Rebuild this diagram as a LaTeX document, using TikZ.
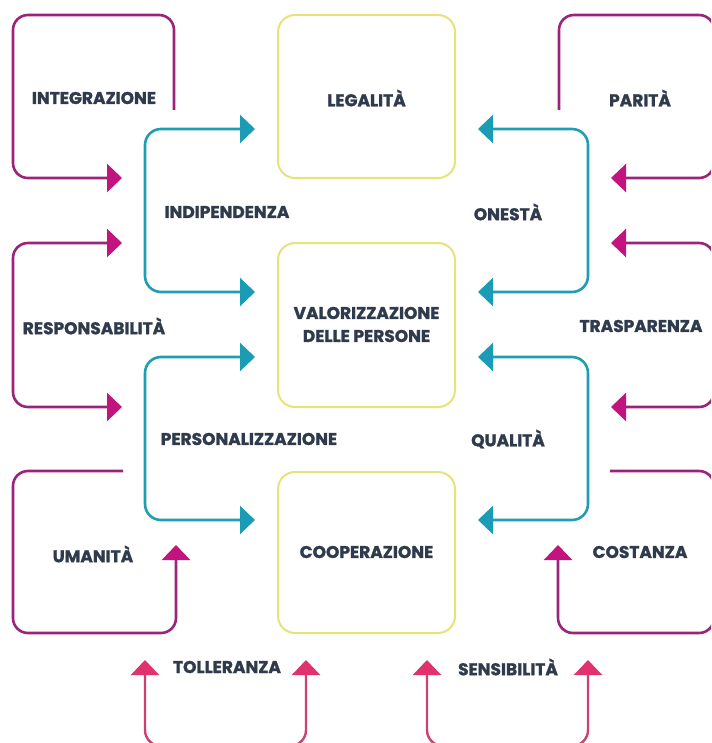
\documentclass[tikz,border=0pt]{standalone}
\usepackage{fontspec}
\setmainfont{Poppins}[BoldFeatures={FakeBold=1.4}]
\usetikzlibrary{arrows.meta}
\definecolor{boxyel}{HTML}{E8E27A}
\definecolor{tealline}{HTML}{1E9EB0}
\definecolor{tealhead}{HTML}{1A9CB6}
\definecolor{magline}{HTML}{9A2479}
\definecolor{maghead}{HTML}{C2137F}
\definecolor{pinkline}{HTML}{D0406E}
\definecolor{pinkhead}{HTML}{E0336D}
\definecolor{txt}{HTML}{2F3B4C}
\begin{document}
\begin{tikzpicture}[x=1pt,y=-1pt,
  lbl/.style={inner sep=0pt, text=txt, font=\fontsize{17}{23}\selectfont\bfseries, align=center},
  valbox/.style={draw=boxyel, line width=2pt, rounded corners=17pt},
  tealarr/.style={draw=tealline, line width=2.6pt, rounded corners=16pt},
  magarr/.style={draw=magline, line width=2.6pt, rounded corners=15pt},
  pinkarr/.style={draw=pinkline, line width=2.4pt, rounded corners=16pt},
  thh/.style={{Triangle[length=15pt,width=28pt,fill=tealhead,color=tealhead]}-{Triangle[length=15pt,width=28pt,fill=tealhead,color=tealhead]}},
  mh/.style={-{Triangle[length=15pt,width=28pt,fill=maghead,color=maghead]}},
  mhh/.style={{Triangle[length=15pt,width=28pt,fill=maghead,color=maghead]}-{Triangle[length=15pt,width=28pt,fill=maghead,color=maghead]}},
  phh/.style={{Triangle[length=15pt,width=28pt,fill=pinkhead,color=pinkhead]}-{Triangle[length=15pt,width=28pt,fill=pinkhead,color=pinkhead]}}
]
\useasboundingbox (0,0) rectangle (711,743);
\clip (0,0) rectangle (711,743);
\fill[white] (0,0) rectangle (711,743);

% central boxes
\draw[valbox] (278,15) rectangle (455,178);
\draw[valbox] (278,243) rectangle (455,407);
\draw[valbox] (278,472) rectangle (455,633);
\node[lbl] (legalita) at (366.5,98) {LEGALITÀ};
\node[lbl] (valorizz) at (366.5,324.5) {VALORIZZAZIONE\\DELLE PERSONE};
\node[lbl] (cooper) at (366.5,552) {COOPERAZIONE};

% coordinates
\coordinate (t1a) at (255,129); \coordinate (t1b) at (255,292);
\coordinate (t2a) at (255,357); \coordinate (t2b) at (255,520);
\coordinate (t3a) at (478,129); \coordinate (t3b) at (478,292);
\coordinate (t4a) at (478,357); \coordinate (t4b) at (478,520);

% teal connectors left
\draw[tealarr,thh] (t1a) -- (145,129) -- (145,292) -- (t1b);
\draw[tealarr,thh] (t2a) -- (145,357) -- (145,520) -- (t2b);
% teal connectors right
\draw[tealarr,thh] (t3a) -- (588,129) -- (588,292) -- (t3b);
\draw[tealarr,thh] (t4a) -- (588,357) -- (588,520) -- (t4b);

% magenta loops left
\coordinate (m1s) at (174,110); \coordinate (m1e) at (122,178);
\draw[magarr,mh] (m1s) -- (174,15) -- (13,15) -- (13,178) -- (m1e);
\coordinate (m2a) at (122,243); \coordinate (m2b) at (122,407);
\draw[magarr,mhh] (m2a) -- (13,243) -- (13,407) -- (m2b);
\coordinate (m3s) at (123,471); \coordinate (m3e) at (176,545);
\draw[magarr,mh] (m3s) -- (13,471) -- (13,633) -- (176,633) -- (m3e);

% magenta loops right
\coordinate (m4s) at (559,110); \coordinate (m4e) at (611,178);
\draw[magarr,mh] (m4s) -- (559,15) -- (714,15) -- (714,178) -- (m4e);
\coordinate (m5a) at (611,243); \coordinate (m5b) at (611,407);
\draw[magarr,mhh] (m5a) -- (714,243) -- (714,407) -- (m5b);
\coordinate (m6s) at (610,471); \coordinate (m6e) at (558,545);
\draw[magarr,mh] (m6s) -- (714,471) -- (714,633) -- (558,633) -- (m6e);

% pink bottom
\coordinate (p1a) at (145,660); \coordinate (p1b) at (306,660);
\draw[pinkarr,phh] (p1a) -- (145,746) -- (306,746) -- (p1b);
\coordinate (p2a) at (427,660); \coordinate (p2b) at (588,660);
\draw[pinkarr,phh] (p2a) -- (427,746) -- (588,746) -- (p2b);

% labels
\node[lbl] (integr) at (94,98) {INTEGRAZIONE};
\node[lbl] (parita) at (640,98) {PARITÀ};
\node[lbl] (indip) at (227,212) {INDIPENDENZA};
\node[lbl] (onesta) at (508,212) {ONESTÀ};
\node[lbl] (respons) at (94,326) {RESPONSABILITÀ};
\node[lbl] (traspar) at (641,326) {TRASPARENZA};
\node[lbl] (person) at (249,439) {PERSONALIZZAZIONE};
\node[lbl] (qualita) at (508,439) {QUALITÀ};
\node[lbl] (umanita) at (93,554) {UMANITÀ};
\node[lbl] (costanza) at (640,552) {COSTANZA};
\node[lbl] (toller) at (227,667) {TOLLERANZA};
\node[lbl] (sensib) at (508,667) {SENSIBILITÀ};
\end{tikzpicture}
\end{document}
